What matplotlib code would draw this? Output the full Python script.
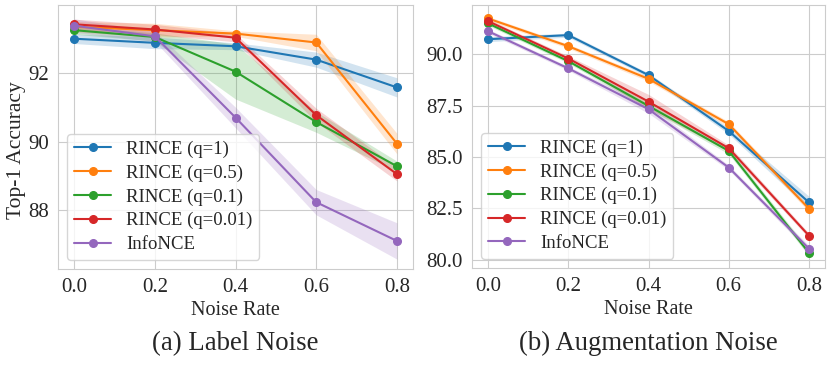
import matplotlib
matplotlib.use("Agg")
import matplotlib.pyplot as plt
import seaborn as sns
import numpy as np

sns.set_style("whitegrid")
plt.rcParams['font.family'] = ['Liberation Serif', 'DejaVu Serif']
plt.rcParams['mathtext.fontset'] = 'stix'

noise_rate = [0.0, 0.2, 0.4, 0.6, 0.8]
labels = ['RINCE (q=1)', 'RINCE (q=0.5)', 'RINCE (q=0.1)', 'RINCE (q=0.01)', 'InfoNCE']
warna = ['#1f77b4', '#ff7f0e', '#2ca02c', '#d62728', '#9467bd']

# (a) Label noise: rata-rata dan standar deviasi
label_mean = [
    [93.00, 92.88, 92.78, 92.39, 91.58],
    [93.35, 93.25, 93.15, 92.89, 89.94],
    [93.25, 93.05, 92.04, 90.57, 89.28],
    [93.42, 93.27, 93.03, 90.77, 89.05],
    [93.38, 93.07, 90.70, 88.23, 87.10],
]
label_std = [
    [0.14, 0.17, 0.10, 0.22, 0.28],
    [0.15, 0.20, 0.08, 0.24, 0.30],
    [0.12, 0.12, 0.80, 0.30, 0.15],
    [0.15, 0.15, 0.12, 0.20, 0.20],
    [0.20, 0.15, 0.30, 0.37, 0.53],
]

# (b) Augmentation noise
aug_mean = [
    [90.74, 90.94, 88.99, 86.27, 82.79],
    [91.75, 90.40, 88.81, 86.60, 82.48],
    [91.51, 89.67, 87.49, 85.30, 80.33],
    [91.62, 89.80, 87.70, 85.43, 81.17],
    [91.13, 89.32, 87.33, 84.49, 80.54],
]
aug_std = [
    [0.12, 0.10, 0.10, 0.15, 0.30],
    [0.10, 0.10, 0.12, 0.12, 0.15],
    [0.10, 0.10, 0.15, 0.15, 0.15],
    [0.10, 0.12, 0.35, 0.15, 0.12],
    [0.10, 0.10, 0.20, 0.12, 0.15],
]

fig = plt.figure(figsize=(8.3, 3.67), dpi=100)
ax1 = fig.add_axes([0.0699, 0.267, 0.4277, 0.719])
ax2 = fig.add_axes([0.5687, 0.270, 0.4253, 0.716])

x = np.array(noise_rate)
for ax, mean, std in [(ax1, label_mean, label_std), (ax2, aug_mean, aug_std)]:
    for m, s, lab, c in zip(mean, std, labels, warna):
        m = np.array(m)
        s = np.array(s)
        ax.fill_between(x, m - s, m + s, color=c, alpha=0.2, linewidth=0)
        ax.plot(x, m, marker='o', markersize=5.5, linewidth=1.5, color=c, label=lab)
    ax.set_xticks(noise_rate)
    ax.set_xlabel('Noise Rate', fontsize=14.5, labelpad=3)
    ax.tick_params(labelsize=15, pad=3)
    ax.legend(loc='lower left', fontsize=13.5, handlelength=2.0,
              borderpad=0.35, labelspacing=0.35)
    for sp in ax.spines.values():
        sp.set_color('#cccccc')

ax1.set_ylim(86.28, 93.98)
ax1.set_yticks([88, 90, 92])
ax1.set_ylabel('Top-1 Accuracy', fontsize=15.5)
ax1.yaxis.set_label_coords(-0.09, 0.45)
ax2.set_ylim(79.6, 92.4)
ax2.set_yticks([80.0, 82.5, 85.0, 87.5, 90.0])
ax2.set_yticklabels(['80.0', '82.5', '85.0', '87.5', '90.0'])

fig.text(0.2837, 0.063, '(a) Label Noise', ha='center', va='center', fontsize=19.3)
fig.text(0.7813, 0.063, '(b) Augmentation Noise', ha='center', va='center', fontsize=19.3)

fig.savefig('out.png', dpi=100)
